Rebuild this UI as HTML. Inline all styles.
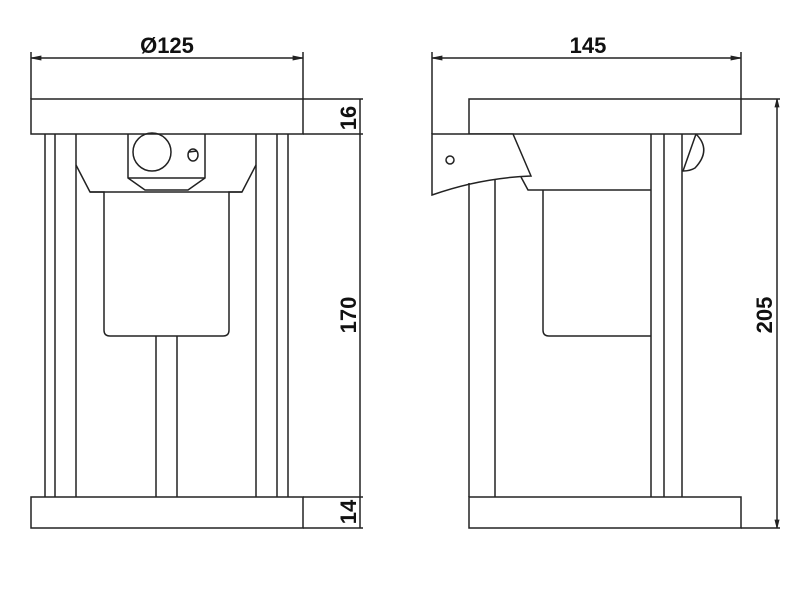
<!DOCTYPE html>
<html><head><style>body{margin:0;background:#fff}svg{display:block}text{font-family:"Liberation Sans",Arial,sans-serif;font-weight:bold;fill:#111}</style></head><body>
<svg width="800" height="600" viewBox="0 0 800 600" fill="none" stroke="#222" stroke-width="1.5">
<!-- LEFT VIEW -->
<line x1="31" y1="58" x2="303" y2="58"/>
<line x1="31" y1="52" x2="31" y2="99"/><line x1="303" y1="52" x2="303" y2="99"/>
<path d="M31 58l10-2v4z M303 58l-10-2v4z" fill="#222" stroke-width="0.8"/>
<text x="167" y="53" font-size="22" text-anchor="middle" stroke="none">Ø125</text>
<rect x="31" y="99" width="272" height="35"/>
<rect x="31" y="497" width="272" height="31"/>
<line x1="45" y1="134" x2="45" y2="497"/><line x1="55" y1="134" x2="55" y2="497"/><line x1="76" y1="134" x2="76" y2="497"/>
<line x1="256" y1="134" x2="256" y2="497"/><line x1="277" y1="134" x2="277" y2="497"/><line x1="288" y1="134" x2="288" y2="497"/>
<line x1="156" y1="336" x2="156" y2="497"/><line x1="177" y1="336" x2="177" y2="497"/>
<path d="M76 165L90 192H104V330q0 6 6 6H223q6 0 6-6V192H242L256 165"/>
<line x1="90" y1="192" x2="242" y2="192"/>
<path d="M128 134V178L145 190H188L205 178V134"/>
<line x1="128" y1="178" x2="205" y2="178"/>
<circle cx="152" cy="152" r="19"/>
<ellipse cx="193" cy="155" rx="5" ry="6"/>
<line x1="189" y1="152" x2="197" y2="151"/>
<!-- left right dims -->
<line x1="303" y1="99" x2="363" y2="99"/><line x1="303" y1="134" x2="363" y2="134"/>
<line x1="303" y1="497" x2="363" y2="497"/><line x1="303" y1="528" x2="363" y2="528"/>
<line x1="360" y1="99" x2="360" y2="528"/>
<text transform="translate(356 118) rotate(-90)" font-size="22" text-anchor="middle" stroke="none">16</text>
<text transform="translate(356 315) rotate(-90)" font-size="22" text-anchor="middle" stroke="none">170</text>
<text transform="translate(356 512) rotate(-90)" font-size="22" text-anchor="middle" stroke="none">14</text>
<!-- RIGHT VIEW -->
<line x1="432" y1="58" x2="741" y2="58"/>
<line x1="432" y1="52" x2="432" y2="134"/><line x1="741" y1="52" x2="741" y2="99"/>
<path d="M432 58l10-2v4z M741 58l-10-2v4z" fill="#222" stroke-width="0.8"/>
<text x="588" y="53" font-size="22" text-anchor="middle" stroke="none">145</text>
<rect x="469" y="99" width="272" height="35"/>
<rect x="469" y="497" width="272" height="31"/>
<path d="M432 134H513L531 176Q480 178 432 195Z" fill="#fff"/>
<circle cx="450" cy="160" r="4"/>
<path d="M521 177L528 190H651"/>
<line x1="469" y1="183" x2="469" y2="497"/><line x1="495" y1="180" x2="495" y2="497"/>
<path d="M543 190V330q0 6 6 6H651"/>
<line x1="651" y1="134" x2="651" y2="497"/><line x1="664" y1="134" x2="664" y2="497"/><line x1="682" y1="134" x2="682" y2="497"/>
<path d="M696 134Q712 150 695 168Q690 171 683 171L696 134"/>
<line x1="741" y1="99" x2="780" y2="99"/><line x1="741" y1="528" x2="780" y2="528"/>
<line x1="777" y1="99" x2="777" y2="528"/>
<path d="M777 99l-2 8h4z M777 528l-2-8h4z" fill="#222" stroke-width="0.8"/>
<text transform="translate(772 315) rotate(-90)" font-size="22" text-anchor="middle" stroke="none">205</text>
</svg>
</body></html>
